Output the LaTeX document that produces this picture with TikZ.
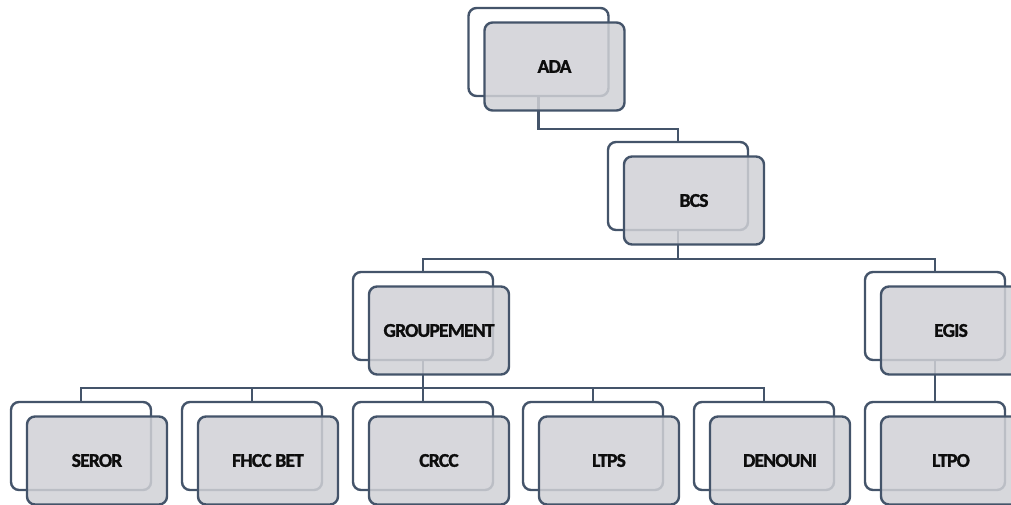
\documentclass[tikz,border=0pt]{standalone}
\usepackage{fontspec}
\setmainfont{Carlito}
\newfontfamily\boxfont{Carlito}[BoldFeatures={FakeBold=1.3,LetterSpace=-4}]
\definecolor{edge}{RGB}{68,84,106}
\definecolor{frontfill}{RGB}{208,209,214}
\begin{document}
\begin{tikzpicture}[x=1pt,y=-1pt,
  backbox/.style={draw=edge,line width=2.4pt,fill=white,rounded corners=8pt,
    minimum width=140pt,minimum height=88pt,inner sep=0pt},
  frontbox/.style={draw=edge,line width=2.4pt,fill=frontfill,fill opacity=0.85,
    text opacity=1,rounded corners=8pt,minimum width=140pt,minimum height=88pt,
    inner sep=0pt,font=\boxfont\fontsize{19.5}{22}\selectfont\bfseries,text=black!95},
  link/.style={draw=edge,line width=2.4pt}]
\useasboundingbox (0,0) rectangle (1011,505);
% back boxes
\node[backbox] (ada) at (538.5,52) {};
\node[backbox] (bcs) at (678,186) {};
\node[backbox] (grp) at (423,316) {};
\node[backbox] (egis) at (935,316) {};
\node[backbox] (seror) at (81,446) {};
\node[backbox] (fhcc) at (252,446) {};
\node[backbox] (crcc) at (423,446) {};
\node[backbox] (ltps) at (593,446) {};
\node[backbox] (denouni) at (764,446) {};
\node[backbox] (ltpo) at (935,446) {};
% connectors
\draw[link] (ada.south) -- ++(0,32) -| (bcs.north);
\draw[link] (bcs.south) -- ++(0,28) -| (grp.north);
\draw[link] (bcs.south) -- ++(0,28) -| (egis.north);
\foreach \c in {seror,fhcc,crcc,ltps,denouni}
  \draw[link] (grp.south) -- ++(0,27) -| (\c.north);
\draw[link] (egis.south) -- (ltpo.north);
% front boxes
\node[frontbox] (adaf) at ([shift={(16,14.5)}]ada.center) {ADA};
\node[frontbox] (bcsf) at ([shift={(16,14.5)}]bcs.center) {BCS};
\node[frontbox] (grpf) at ([shift={(16,14.5)}]grp.center) {GROUPEMENT};
\node[frontbox] (egisf) at ([shift={(16,14.5)}]egis.center) {EGIS};
\node[frontbox] (serorf) at ([shift={(16,14.5)}]seror.center) {SEROR};
\node[frontbox] (fhccf) at ([shift={(16,14.5)}]fhcc.center) {FHCC BET};
\node[frontbox] (crccf) at ([shift={(16,14.5)}]crcc.center) {CRCC};
\node[frontbox] (ltpsf) at ([shift={(16,14.5)}]ltps.center) {LTPS};
\node[frontbox] (denounif) at ([shift={(16,14.5)}]denouni.center) {DENOUNI};
\node[frontbox] (ltpof) at ([shift={(16,14.5)}]ltpo.center) {LTPO};
\end{tikzpicture}
\end{document}
